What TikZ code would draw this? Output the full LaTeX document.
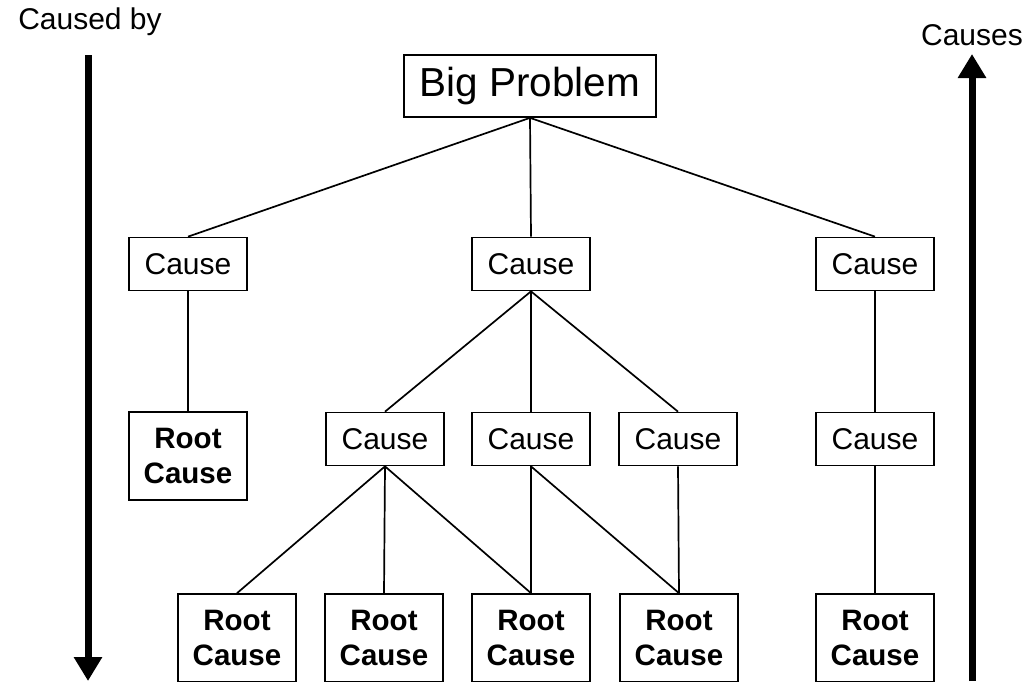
\documentclass[tikz,border=0pt]{standalone}
\usepackage{fontspec}
\setmainfont{Liberation Sans}
\usetikzlibrary{arrows.meta}
\begin{document}
\begin{tikzpicture}[x=1pt,y=-1pt,
  box/.style={draw, line width=1.7pt, inner sep=0pt, minimum width=118pt, minimum height=53pt, font=\fontsize{30}{34}\selectfont},
  rootbox/.style={box, minimum height=88pt, align=center, font=\fontsize{29.5}{35}\selectfont\bfseries},
  link/.style={line width=1.7pt},
  bigarrow/.style={line width=7pt, -{Triangle[width=27pt,length=24pt]}}
]
\useasboundingbox (0,0) rectangle (1030,681);
\node[box, minimum width=252pt, minimum height=62pt, font=\fontsize{40.5}{44}\selectfont] (big) at (530,86) {Big Problem};
\node[box] (c1) at (188,264) {Cause};
\node[box] (c2) at (531,264) {Cause};
\node[box] (c3) at (875,264) {Cause};
\node[rootbox] (r0) at (188,456) {Root\\Cause};
\node[box] (d1) at (385,439) {Cause};
\node[box] (d2) at (531,439) {Cause};
\node[box] (d3) at (678,439) {Cause};
\node[box] (d4) at (875,439) {Cause};
\node[rootbox] (r1) at (237,638) {Root\\Cause};
\node[rootbox] (r2) at (384,638) {Root\\Cause};
\node[rootbox] (r3) at (531,638) {Root\\Cause};
\node[rootbox] (r4) at (679,638) {Root\\Cause};
\node[rootbox] (r5) at (875,638) {Root\\Cause};
\draw[link] (big.south) -- (c1.north);
\draw[link] (big.south) -- (c2.north);
\draw[link] (big.south) -- (c3.north);
\draw[link] (c1.south) -- (r0.north);
\draw[link] (c2.south) -- (d1.north);
\draw[link] (c2.south) -- (d2.north);
\draw[link] (c2.south) -- (d3.north);
\draw[link] (c3.south) -- (d4.north);
\draw[link] (d4.south) -- (r5.north);
\draw[link] (d1.south) -- (r1.north);
\draw[link] (d1.south) -- (r2.north);
\draw[link] (d1.south) -- (r3.north);
\draw[link] (d2.south) -- (r3.north);
\draw[link] (d2.south) -- (r4.north);
\draw[link] (d3.south) -- (r4.north);
\node[font=\fontsize{30}{32}\selectfont] (lbl1) at (90,22) {Caused by};
\node[font=\fontsize{30}{32}\selectfont] (lbl2) at (972,35) {Causes};
\coordinate (a1s) at (88,55);
\coordinate (a1e) at (88,681);
\coordinate (a2s) at (972,681);
\coordinate (a2e) at (972,54);
\draw[bigarrow] (a1s) -- (a1e);
\draw[bigarrow] (a2s) -- (a2e);
\end{tikzpicture}
\end{document}
